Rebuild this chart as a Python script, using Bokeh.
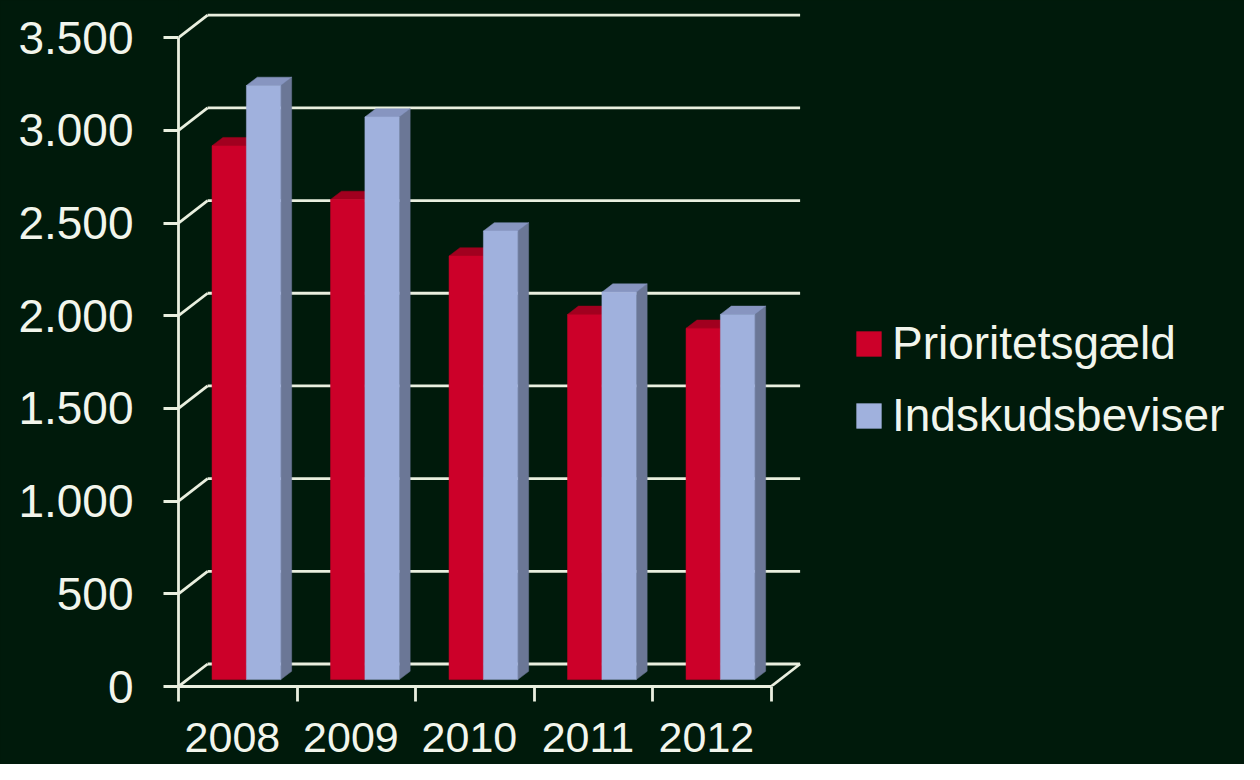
import numpy as np
from bokeh.plotting import figure
from bokeh.models import Range1d, LinearAxis, FixedTicker, Legend, LegendItem, ColumnDataSource
from bokeh.embed import file_html
from bokeh.resources import INLINE

# ---- data ----
years = ["2008", "2009", "2010", "2011", "2012"]
prioritetsgaeld = [2880, 2590, 2285, 1970, 1895]
indskudsbeviser = [3205, 3035, 2420, 2090, 1970]
y_ticks = [0, 500, 1000, 1500, 2000, 2500, 3000, 3500]
y_tick_labels = ["0", "500", "1.000", "1.500", "2.000", "2.500", "3.000", "3.500"]

# ---- style ----
BG = "#001a0b"
LINE = "#e9efdf"
TXT = "#f2f5ec"
RED, RED_TOP, RED_SIDE = "#cc0029", "#a1001f", "#8a001a"
BLUE, BLUE_TOP, BLUE_SIDE = "#a0b1dd", "#8795c0", "#6b7796"
FONT = "Liberation Sans"

W, H = 1244, 764
FL, FB = 178, 78           # frame left / bottom border in px
PX_X = 118.5               # px per category
Y_MAX = 3500
PX_Y = 648.8 / Y_MAX       # px per value unit
frame_w = W - FL
frame_h = H - FB
SHIFT = 0.455              # category boundary offset from label tick
x0 = -SHIFT
x1 = x0 + frame_w / PX_X
y1 = frame_h / PX_Y

DXW, DYW = 29.1 / PX_X, 22.5 / PX_Y     # wall depth
DXB, DYB = 10.9 / PX_X, 8.3 / PX_Y      # bar depth
BASE = 6.9 / PX_Y                        # bar base lift
BAR_OFF, BAR_W = 0.283, 0.29
LW = 2.8

n = len(years)
idx = np.arange(n)
bounds = np.arange(n + 1) - SHIFT

p = figure(width=W, height=H, x_range=Range1d(x0, x1), y_range=Range1d(0, y1),
           output_backend="svg", toolbar_location=None,
           x_axis_type=None, y_axis_type=None,
           min_border_left=FL, min_border_right=0, min_border_top=0, min_border_bottom=FB,
           background_fill_color=BG, border_fill_color=BG, outline_line_color=None)
p.styles = {"background-color": BG}

# back wall gridlines + left side diagonals
gy = np.array(y_ticks, dtype=float)
p.segment(x0=[bounds[0] + DXW] * len(gy), y0=gy + DYW, x1=[bounds[-1] + DXW] * len(gy), y1=gy + DYW,
          line_color=LINE, line_width=LW)
p.segment(x0=[bounds[0]] * len(gy), y0=gy, x1=[bounds[0] + DXW] * len(gy), y1=gy + DYW,
          line_color=LINE, line_width=LW)
# floor right diagonal
p.segment(x0=[bounds[-1]], y0=[0], x1=[bounds[-1] + DXW], y1=[DYW], line_color=LINE, line_width=LW)

def bar3d(left, right, vals, front, top, side):
    bottom = np.full(len(vals), BASE)
    tops = BASE + np.array(vals, dtype=float)
    xs_side = [[r, r + DXB, r + DXB, r] for r in right]
    ys_side = [[b, b + DYB, t + DYB, t] for b, t in zip(bottom, tops)]
    p.patches(xs_side, ys_side, fill_color=side, line_color=side, line_width=0.5)
    xs_top = [[l, r, r + DXB, l + DXB] for l, r in zip(left, right)]
    ys_top = [[t, t, t + DYB, t + DYB] for t in tops]
    p.patches(xs_top, ys_top, fill_color=top, line_color=top, line_width=0.5)
    src = ColumnDataSource(dict(left=left, right=right, bottom=bottom, top=tops))
    return p.quad(left="left", right="right", bottom="bottom", top="top", source=src,
                  fill_color=front, line_color=front, line_width=0.5)

red_left = idx - SHIFT + BAR_OFF
red_right = red_left + BAR_W
blue_left = red_right
blue_right = blue_left + BAR_W
r_red = bar3d(red_left, red_right, prioritetsgaeld, RED, RED_TOP, RED_SIDE)
r_blue = bar3d(blue_left, blue_right, indskudsbeviser, BLUE, BLUE_TOP, BLUE_SIDE)

# axes
yax = LinearAxis(ticker=FixedTicker(ticks=y_ticks, minor_ticks=[]), bounds=(0, Y_MAX),
                 major_label_overrides={t: l for t, l in zip(y_ticks, y_tick_labels)},
                 axis_line_color=LINE, axis_line_width=LW,
                 major_tick_line_color=LINE, major_tick_line_width=LW,
                 major_tick_out=15, major_tick_in=0, minor_tick_line_color=None,
                 major_label_text_font=FONT, major_label_text_font_size="46px",
                 major_label_text_color=TXT, major_label_standoff=30)
p.add_layout(yax, "left")

xax = LinearAxis(ticker=FixedTicker(ticks=list(idx), minor_ticks=list(bounds)),
                 bounds=(bounds[0], bounds[-1]),
                 major_label_overrides={int(i): y for i, y in zip(idx, years)},
                 axis_line_color=LINE, axis_line_width=LW,
                 major_tick_line_color=None, major_tick_out=0, major_tick_in=0,
                 minor_tick_line_color=LINE, minor_tick_line_width=LW,
                 minor_tick_out=15, minor_tick_in=0,
                 major_label_text_font=FONT, major_label_text_font_size="43px",
                 major_label_text_color=TXT, major_label_standoff=21,
                 major_label_text_line_height=1.0)
p.add_layout(xax, "below")

legend = Legend(items=[LegendItem(label="Prioritetsgæld", renderers=[r_red]),
                       LegendItem(label="Indskudsbeviser", renderers=[r_blue])],
                location=(675, 244), glyph_width=31, glyph_height=31,
                label_standoff=8, spacing=18, padding=0, margin=0,
                border_line_color=None, background_fill_alpha=0,
                label_text_font=FONT, label_text_font_size="46px", label_text_color=TXT)
p.add_layout(legend, "center")

open("out.html", "w").write(file_html(p, INLINE))
